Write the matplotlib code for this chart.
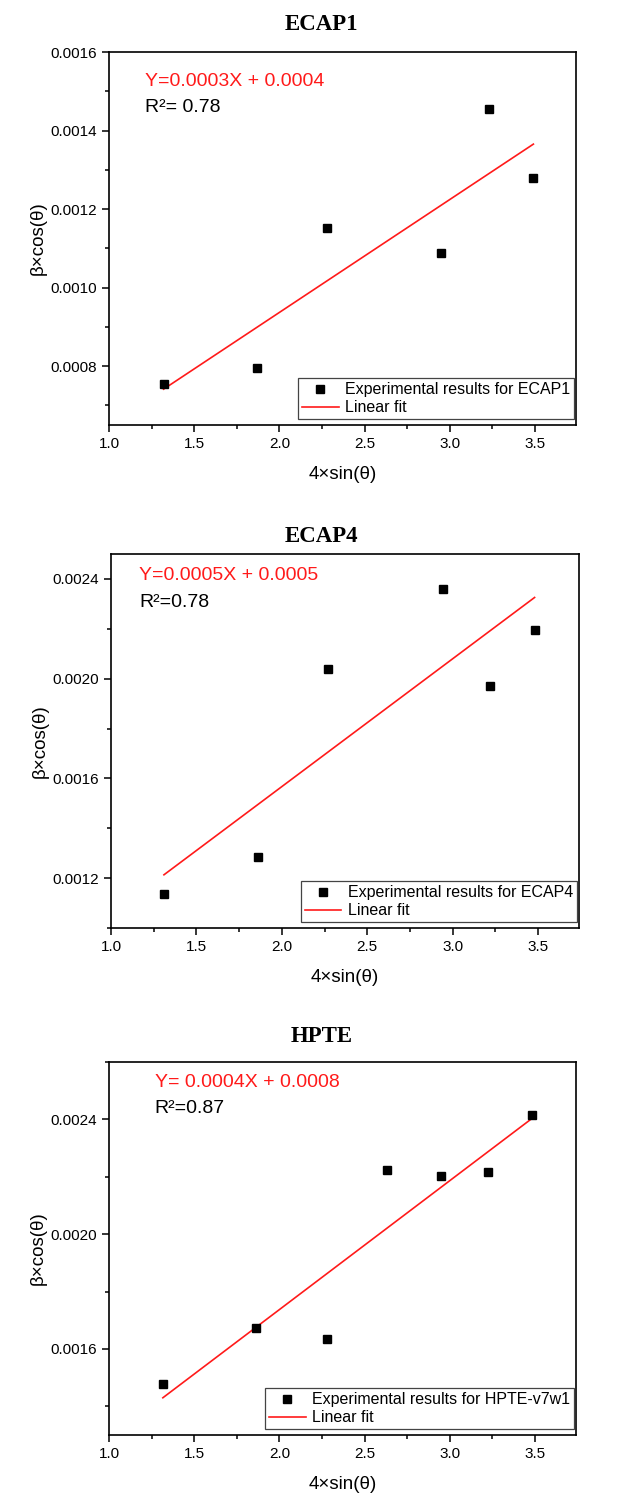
"""Williamson-Hall plots for ECAP1, ECAP4 and HPTE samples, stacked vertically.
Saves out.png.
"""
import matplotlib
matplotlib.use("Agg")
import matplotlib.pyplot as plt
from matplotlib.ticker import MultipleLocator
import numpy as np

plt.rcParams["font.family"] = ["Liberation Sans", "DejaVu Sans"]

# data
ecap1_x = [1.32, 1.87, 2.28, 2.95, 3.23, 3.49]
ecap1_y = [0.000755, 0.000795, 0.001152, 0.001087, 0.001455, 0.001280]

ecap4_x = [1.31, 1.86, 2.27, 2.944, 3.22, 3.48]
ecap4_y = [0.001137, 0.001283, 0.002037, 0.002361, 0.001970, 0.002195]

hpte_x = [1.316, 1.862, 2.278, 2.633, 2.946, 3.223, 3.483]
hpte_y = [0.001478, 0.001673, 0.001634, 0.002223, 0.002201, 0.002218, 0.002415]

titles = ["ECAP1", "ECAP4", "HPTE"]
equations = ["Y=0.0003X + 0.0004", "Y=0.0005X + 0.0005", "Y= 0.0004X + 0.0008"]
r2_texts = ["R²= 0.78", "R²=0.78", "R²=0.87"]
legend_labels = ["Experimental results for ECAP1",
                 "Experimental results for ECAP4",
                 "Experimental results for HPTE-v7w1"]
ylims = [(0.00065, 0.0016), (0.0010, 0.0025), (0.0013, 0.0026)]
ymajor = [0.0002, 0.0004, 0.0004]

W, H = 643, 1508
fig = plt.figure(figsize=(W / 100, H / 100), dpi=100)

# axes boxes in pixels: left, right, top, bottom
boxes = [(109, 576, 52, 425), (111, 579, 554, 928), (109, 576, 1062, 1435)]
title_y = [25, 536, 1037]
text_pos = [(0.077, 0.92, 0.85), (0.06, 0.943, 0.871), (0.098, 0.946, 0.875)]

series = [(ecap1_x, ecap1_y), (ecap4_x, ecap4_y), (hpte_x, hpte_y)]

for i, (xs, ys) in enumerate(series):
    l, r, t, b = boxes[i]
    ax = fig.add_axes([l / W, 1 - b / H, (r - l) / W, (b - t) / H])
    xs, ys = np.array(xs), np.array(ys)
    ax.plot(xs, ys, "s", color="black", ms=6, label=legend_labels[i], zorder=3)
    k, c = np.polyfit(xs, ys, 1)
    fx = np.array([xs.min(), xs.max()])
    ax.plot(fx, k * fx + c, color="#ff1a1a", lw=1.2, label="Linear fit", zorder=2)

    ax.set_xlim(1.0, 3.74)
    ax.set_ylim(*ylims[i])
    ax.xaxis.set_major_locator(MultipleLocator(0.5))
    ax.xaxis.set_minor_locator(MultipleLocator(0.25))
    ax.yaxis.set_major_locator(MultipleLocator(ymajor[i]))
    ax.yaxis.set_minor_locator(MultipleLocator(ymajor[i] / 2))
    ax.yaxis.set_major_formatter(plt.FuncFormatter(lambda v, p: f"{v:.4f}"))
    ax.tick_params(which="both", direction="out", labelsize=11, width=1.1)
    ax.tick_params(which="major", length=5)
    ax.tick_params(which="minor", length=3)
    for s in ax.spines.values():
        s.set_linewidth(1.2)

    fig.text(0.5, 1 - title_y[i] / H, titles[i], family="Liberation Serif",
             fontweight="bold", fontsize=16.5, ha="center", va="center")
    ax.set_xlabel("4×sin(θ)", fontsize=13.5, labelpad=11)
    ax.set_ylabel("β×cos(θ)", fontsize=13.5, labelpad=3)

    tx, ty1, ty2 = text_pos[i]
    ax.text(tx, ty1, equations[i], transform=ax.transAxes, color="#ff1a1a",
            fontsize=14, va="center", ha="left")
    ax.text(tx, ty2, r2_texts[i], transform=ax.transAxes, color="black",
            fontsize=14, va="center", ha="left")

    leg = ax.legend(loc="lower right", bbox_to_anchor=(0.996, 0.015),
                    fontsize=11.5, fancybox=False, framealpha=1,
                    edgecolor="#444444", borderpad=0.25, labelspacing=0.2,
                    handlelength=2.3, handletextpad=0.4, borderaxespad=0)
    leg.get_frame().set_linewidth(0.9)

fig.savefig("out.png", dpi=100)
